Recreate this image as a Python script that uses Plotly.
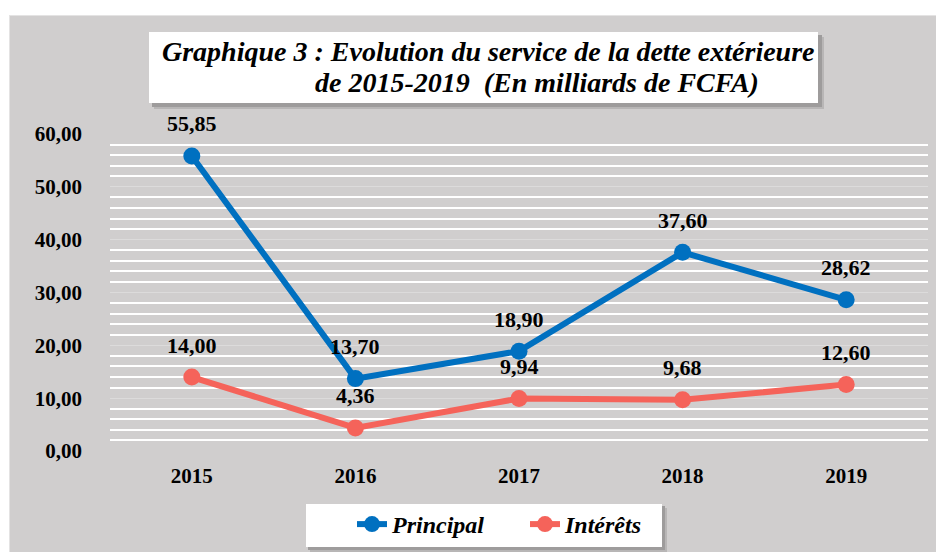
import plotly.graph_objects as go

years = ["2015", "2016", "2017", "2018", "2019"]
principal = [55.85, 13.70, 18.90, 37.60, 28.62]
interets = [14.00, 4.36, 9.94, 9.68, 12.60]
series_names = ["Principal", "Intérêts"]
title_line1 = "Graphique 3 : Evolution du service de la dette extérieure"
title_line2 = "de 2015-2019  (En milliards de FCFA)"

BLUE = "#0070C0"
RED = "#F5635A"
BG = "#D0CECE"
FONT = "Liberation Serif"

W, H = 944, 552
OFF = 8  # page body margin
# plot area in page pixels
PL, PR, PT, PB = 110, 928, 134, 451
L, T = PL - OFF, PT - OFF
R, B = W - (PR - OFF), H - (PB - OFF)
PW, PH = W - L - R, H - T - B

xpos = list(range(len(years)))


def px(x):
    return (x - OFF - L) / PW


def py(y):
    return (H - B - (y - OFF)) / PH


def fmt(v):
    return f"{v:.2f}".replace(".", ",")


fig = go.Figure()
for name, vals, col in [(series_names[0], principal, BLUE), (series_names[1], interets, RED)]:
    fig.add_trace(go.Scatter(
        x=xpos, y=vals, name=name, mode="lines+markers",
        line=dict(color=col, width=6),
        marker=dict(color=col, size=17),
        cliponaxis=False,
    ))

annotations = []
for vals in (principal, interets):
    for x, v in zip(xpos, vals):
        annotations.append(dict(
            x=x, y=v, xref="x", yref="y", text=fmt(v), showarrow=False,
            yshift=32, yanchor="middle",
            font=dict(family=FONT, size=22, color="black", weight="bold"),
        ))

annotations.append(dict(
    x=px(160), y=py(51), xref="paper", yref="paper", text=title_line1,
    showarrow=False, xanchor="left", yanchor="middle",
    font=dict(family=FONT, size=28, color="black", weight="bold", style="italic"),
))
annotations.append(dict(
    x=px(313), y=py(83), xref="paper", yref="paper", text=title_line2,
    showarrow=False, xanchor="left", yanchor="middle",
    font=dict(family=FONT, size=28, color="black", weight="bold", style="italic"),
))


def rect(x0, y0, x1, y1, color, layer="below"):
    return dict(type="rect", xref="paper", yref="paper",
                x0=px(x0), x1=px(x1), y0=py(y1), y1=py(y0),
                fillcolor=color, line=dict(width=0), layer=layer)


shapes = [
    rect(0, 0, W + 20, 15, "white"),
    rect(0, 0, 9, H + 20, "white"),
    rect(9, 15, 10, H + 20, "#E4E3E3"),
    rect(9, 15, W + 20, 16, "#E4E3E3"),
    # title box shadow + box
    rect(154, 37, 824, 109, "#B8B6B6", "above"),
    rect(152, 35, 822, 107, "#9E9C9C", "above"),
    rect(149, 32, 818, 103, "white", "above"),
    # legend shadow + box
    rect(310, 508, 667, 552, "#B8B6B6", "above"),
    rect(308, 506, 665, 550, "#9E9C9C", "above"),
    rect(306, 504, 662, 547, "white", "above"),
]

fig.update_layout(
    width=W, height=H, autosize=False,
    margin=dict(l=L, r=R, t=T, b=B, autoexpand=False),
    paper_bgcolor=BG, plot_bgcolor=BG,
    separators=",.",
    showlegend=True,
    legend=dict(
        orientation="h", x=px(352), y=py(502), xanchor="left", yanchor="top",
        bgcolor="rgba(0,0,0,0)", borderwidth=0,
        entrywidth=128, entrywidthmode="pixels",
        font=dict(family=FONT, size=24, color="black", weight="bold", style="italic"),
    ),
    xaxis=dict(
        range=[-0.5, len(years) - 0.5], tickvals=xpos, ticktext=years,
        showgrid=False, zeroline=False, showline=False, automargin=False,
        ticks="", ticklabelstandoff=10,
        tickfont=dict(family=FONT, size=21, color="black", weight="bold"),
    ),
    yaxis=dict(
        range=[0, 60], dtick=10, tickformat=".2f", automargin=False,
        showgrid=True, gridcolor="#DCDBDB", gridwidth=1,
        zeroline=False, showline=False, ticks="", ticklabelstandoff=27,
        minor=dict(dtick=2, showgrid=True, gridcolor="white", gridwidth=1.6),
        tickfont=dict(family=FONT, size=21, color="black", weight="bold"),
    ),
    annotations=annotations,
    shapes=shapes,
)

fig.write_html("out.html")
